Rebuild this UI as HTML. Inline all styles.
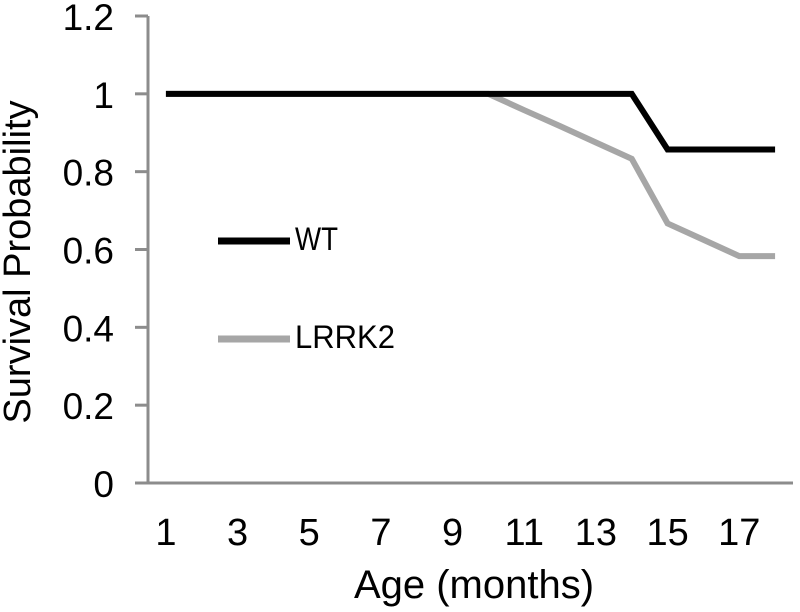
<!DOCTYPE html>
<html><head><meta charset="utf-8"><style>
body{margin:0;background:#fff;}
svg text{font-family:"Liberation Sans",Arial,sans-serif;fill:#000;}
</style></head><body>
<svg width="800" height="607" id="c"></svg>
<script>
const categories=[1,2,3,4,5,6,7,8,9,10,11,12,13,14,15,16,17,18];
const wtValues=[1,1,1,1,1,1,1,1,1,1,1,1,1,1,0.857,0.857,0.857,0.857];
const lrrk2Values=[1,1,1,1,1,1,1,1,1,1,0.958,0.917,0.875,0.833,0.667,0.625,0.583,0.583];
const yTicks=[0,0.2,0.4,0.6,0.8,1,1.2];
const yTickLabels=["0","0.2","0.4","0.6","0.8","1","1.2"];
const xTickLabels=["1","3","5","7","9","11","13","15","17"];
const NS="http://www.w3.org/2000/svg";
const svg=document.getElementById('c');
const X0=148,X1=793,Y0=483,YT=16;
const step=(X1-X0)/categories.length;
const x=i=>X0+step*(i+0.5);
const y=v=>Y0-(v/1.2)*(Y0-YT);
function mk(t,a){const e=document.createElementNS(NS,t);for(const k in a)e.setAttribute(k,a[k]);svg.appendChild(e);return e;}
let e=mk('line',{x1:X0,y1:YT,x2:X0,y2:Y0,stroke:'#8c8c8c','stroke-width':3});


e=mk('line',{x1:135,y1:Y0,x2:X1,y2:Y0,stroke:'#8c8c8c','stroke-width':3});


yTicks.forEach((v,i)=>{
 let t=mk('line',{x1:135,y1:y(v),x2:X0,y2:y(v),stroke:'#8c8c8c','stroke-width':3});
 
 
 let l=mk('text',{x:114,y:y(v)+14,'text-anchor':'end','font-size':37});
 l.textContent=yTickLabels[i];
 
 
});
xTickLabels.forEach(s=>{
 const i=categories.indexOf(+s);
 let l=mk('text',{x:x(i),y:545,'text-anchor':'middle','font-size':38});
 l.textContent=s;
 
 
});
let t=mk('text',{x:474,y:598,'text-anchor':'middle','font-size':40});
t.textContent='Age (months)';


t=mk('text',{x:0,y:0,'text-anchor':'middle','font-size':38,transform:'translate(30,262) rotate(-90)'});
t.textContent='Survival Probability';


function series(vals,color,name){
 const p=mk('polyline',{points:vals.map((v,i)=>x(i)+','+y(v)).join(' '),fill:'none',stroke:color,'stroke-width':6});
 
 
}
series(lrrk2Values,'#a6a6a6','lrrk2-line');
series(wtValues,'#000','wt-line');
function legend(yy,color,label,name,w){
 let l=mk('line',{x1:218,y1:yy,x2:290,y2:yy,stroke:color,'stroke-width':7});
 
 
 let tx=mk('text',{x:295,y:yy+9,'font-size':32,textLength:w,lengthAdjust:'spacingAndGlyphs'});
 tx.textContent=label;
 
 
}
legend(241,'#000','WT','wt',43);
legend(339,'#a6a6a6','LRRK2','lrrk2',100);
</script>
</body></html>
